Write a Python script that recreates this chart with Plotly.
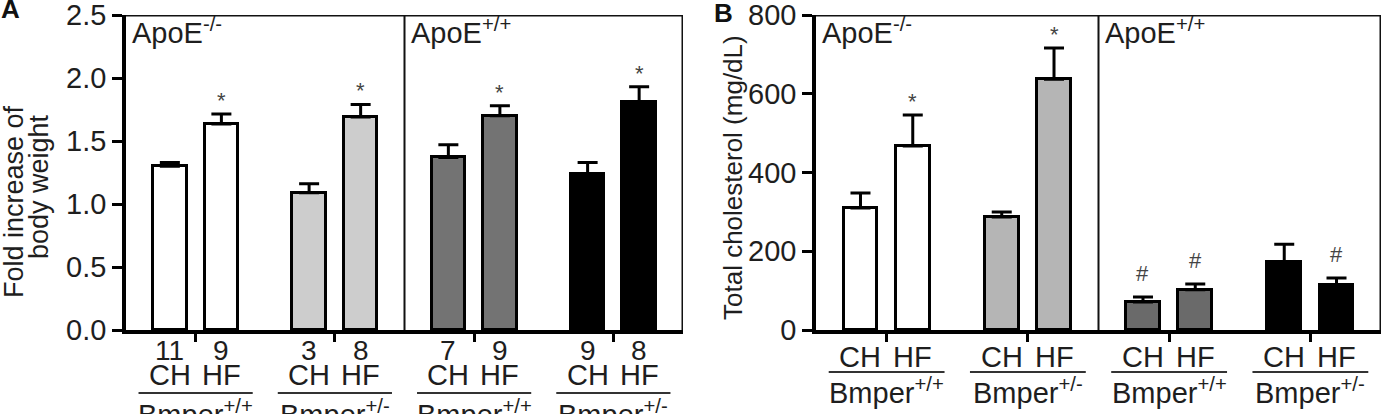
import plotly.graph_objects as go

W, H = 1387, 414

# ---------------- data ----------------
genotypes = ["ApoE<sup>-/-</sup>", "ApoE<sup>+/+</sup>"]
groups = ["Bmper<sup>+/+</sup>", "Bmper<sup>+/-</sup>", "Bmper<sup>+/+</sup>", "Bmper<sup>+/-</sup>"]
diets = ["CH", "HF"]

# Panel A: fold increase of body weight
a_mean = [1.30, 1.635, 1.09, 1.69, 1.37, 1.70, 1.24, 1.81]
a_err = [0.03, 0.08, 0.07, 0.10, 0.10, 0.08, 0.09, 0.12]
a_n = ["11", "9", "3", "8", "7", "9", "9", "8"]
a_marks = ["", "*", "", "*", "", "*", "", "*"]

# Panel B: total cholesterol (mg/dL)
b_mean = [310, 467, 287, 637, 71, 102, 172, 114]
b_err = [38, 79, 13, 79, 13, 15, 46, 18]
b_marks = ["", "*", "", "*", "#", "#", "", "#"]

a_colors = ["#ffffff", "#ffffff", "#cdcdcd", "#cdcdcd", "#737373", "#737373", "#000000", "#000000"]
b_colors = ["#ffffff", "#ffffff", "#b5b5b5", "#b5b5b5", "#6a6a6a", "#6a6a6a", "#000000", "#000000"]

# ---------------- layout helpers ----------------
FONT = "Liberation Sans, Arial, Helvetica, sans-serif"
TXT = "#1e1e1e"
OFF = 0.185
centers = [g + 0.5 for g in range(len(groups))]
xpos = [c + s * OFF for c in centers for s in (-1, 1)]
MARK_SHIFT = {"*": -1, "#": 9}


def fx(px):
    return px / W


def fy(py):
    return 1 - py / H


fig = go.Figure()

for (mean, err, cols, xa, ya) in [
    (a_mean, a_err, a_colors, "x", "y"),
    (b_mean, b_err, b_colors, "x2", "y2"),
]:
    fig.add_trace(go.Bar(
        x=xpos, y=mean, width=0.24,
        marker=dict(color=cols, line=dict(color="black", width=3)),
        error_y=dict(type="data", array=err, arrayminus=[0] * len(err), symmetric=False,
                     color="black", thickness=3, width=10),
        xaxis=xa, yaxis=ya, showlegend=False, hoverinfo="skip",
    ))

ydom = [fy(330), fy(15)]
common_x = dict(range=[0, 4], showgrid=False, zeroline=False, showline=True, linecolor="black",
                linewidth=3.5, ticks="outside", tickvals=centers, ticklen=8, tickwidth=3,
                tickcolor="black", showticklabels=False, fixedrange=True)
common_y = dict(showgrid=False, zeroline=False, showline=True, linecolor="black", linewidth=3.5,
                ticks="outside", ticklen=10, tickwidth=3, tickcolor="black",
                ticklabeloverflow="allow",
                tickfont=dict(family=FONT, size=29, color=TXT), fixedrange=True)

fig.update_layout(
    width=W, height=H, autosize=False,
    margin=dict(l=0, r=0, t=0, b=0, pad=0, autoexpand=False),
    paper_bgcolor="white", plot_bgcolor="white", bargap=0,
    xaxis=dict(domain=[fx(126), fx(683)], anchor="y", **common_x),
    yaxis=dict(domain=ydom, anchor="x", range=[0, 2.5], tickvals=[0, 0.5, 1.0, 1.5, 2.0, 2.5],
               tickformat=".1f", **common_y),
    xaxis2=dict(domain=[fx(816), fx(1381)], anchor="y2", **common_x),
    yaxis2=dict(domain=ydom, anchor="x2", range=[0, 800], tickvals=[0, 200, 400, 600, 800], **common_y),
)

shapes = []
anns = []


def txt(text, x, y, xref="paper", yref="paper", size=29, color=TXT, xanchor="center",
        yanchor="middle", **kw):
    anns.append(dict(text=text, x=x, y=y, xref=xref, yref=yref, xanchor=xanchor, yanchor=yanchor,
                     showarrow=False, font=dict(family=FONT, size=size, color=color), **kw))


for xr, yr, ytop in [("x", "y", 2.5), ("x2", "y2", 800)]:
    # frame top, right, divider
    shapes.append(dict(type="line", xref=xr, yref=yr, x0=0, x1=4, y0=ytop, y1=ytop,
                       line=dict(color="#111", width=3)))
    shapes.append(dict(type="line", xref=xr, yref=yr, x0=4, x1=4, y0=0, y1=ytop,
                       line=dict(color="#111", width=3)))
    shapes.append(dict(type="line", xref=xr, yref=yr, x0=2, x1=2, y0=0, y1=ytop,
                       line=dict(color="#111", width=2)))
    for i, gt in enumerate(genotypes):
        txt(gt, 2 * i, fy(31), xref=xr, xanchor="left", xshift=4)

# x category labels
for xr, ydiet, yline, ygrp in [("x", 375, 393, 413), ("x2", 357, 372, 391)]:
    for gi, g in enumerate(groups):
        for di, d in enumerate(diets):
            txt(d, xpos[2 * gi + di], fy(ydiet), xref=xr)
        shapes.append(dict(type="line", xref=xr, yref="paper", x0=centers[gi] - 0.41,
                           x1=centers[gi] + 0.41, y0=fy(yline), y1=fy(yline),
                           line=dict(color="#333", width=2)))
        txt(g, centers[gi], fy(ygrp), xref=xr)

for i, n in enumerate(a_n):
    txt(n, xpos[i], fy(350), xref="x", size=28)

# significance marks
for mean, err, marks, xr, yr in [(a_mean, a_err, a_marks, "x", "y"), (b_mean, b_err, b_marks, "x2", "y2")]:
    for i, m in enumerate(marks):
        if m:
            txt(m, xpos[i], mean[i] + err[i], xref=xr, yref=yr, yanchor="bottom",
                yshift=MARK_SHIFT[m], size=22, color="#444")

# axis titles
txt("Fold increase of", fx(14), fy(202), size=27, textangle=-90)
txt("body weight", fx(39), fy(187), size=27, textangle=-90)
txt("Total cholesterol (mg/dL)", fx(733), fy(178), size=26, textangle=-90)

# panel letters
txt("<b>A</b>", fx(10), fy(9), size=26, color="#111")
txt("<b>B</b>", fx(723), fy(13), size=26, color="#111")

fig.update_layout(shapes=shapes, annotations=anns)
fig.write_html("out.html")
